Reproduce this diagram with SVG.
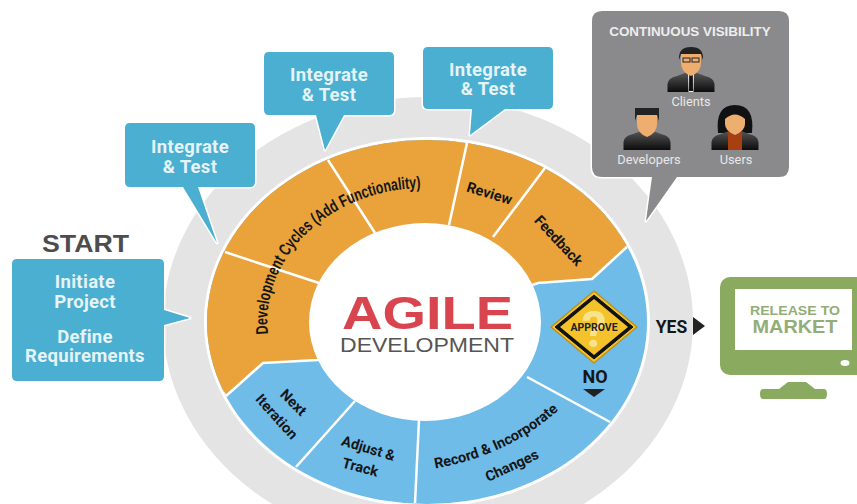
<svg xmlns="http://www.w3.org/2000/svg" xmlns:xlink="http://www.w3.org/1999/xlink" width="857" height="504" viewBox="0 0 857 504">
<style>
.call{fill:#4aafd0;stroke:#fff;stroke-width:3;stroke-linejoin:round;paint-order:stroke}
.ct{font:bold 18.500px Roboto,"Liberation Sans",sans-serif;fill:#e6f4f8;text-anchor:middle;letter-spacing:.3px}
.seg{font:bold 14.500px Roboto,"Liberation Sans",sans-serif;fill:#161616;text-anchor:middle}
.div{stroke:#fff;stroke-width:2.5;fill:none}
.pl{font:12.800px Roboto,"Liberation Sans",sans-serif;fill:#e8e8e8;text-anchor:middle}
</style>
<defs>
<linearGradient id="suit" x1="0" y1="0" x2="0" y2="1"><stop offset="0" stop-color="#555"/><stop offset="1" stop-color="#0c0c0c"/></linearGradient>
<g id="torso"><path d="M-23.5,23 V15 Q-23,9 -14,7 L-6,4 H6 L14,7 Q23,9 23.5,15 V23 Z" fill="url(#suit)"/></g>
<g id="face"><path d="M-10,-17 H10 V-6 Q10,3 0,7 Q-10,3 -10,-6 Z" fill="#eeae70"/></g>
<clipPath id="ringClip"><ellipse cx="427" cy="322" rx="220" ry="182"/></clipPath>
</defs>
<rect width="857" height="504" fill="#fff"/>
<g id="wheel">
<ellipse cx="428" cy="322" rx="265" ry="225" fill="#e4e4e4"/>
<ellipse cx="427" cy="322" rx="223" ry="185" fill="#fff"/>
<ellipse cx="427" cy="322" rx="220" ry="182" fill="#6fbce9"/>
<g clip-path="url(#ringClip)">
<path d="M226,396 L150,300 L150,100 L720,100 L629,245 L592,279 L538,283 L425,322 L318,360 L263,363 Z" fill="#e9a33a" stroke="#fff" stroke-width="2.5" stroke-linejoin="round"/>
</g>
</g>
<g id="connectors">
<path class="div" d="M328,160 L375,233 M467,143 L449,225 M545,168 L493,237 M225,252 L319,283 M355,401 L296,467 M419,420 L415,503 M527,377 L610,422"/>
</g>
<g id="center">
<ellipse cx="425" cy="322" rx="116" ry="99" fill="#fff"/>
<text x="427.5" y="329" font-family="'Liberation Sans',sans-serif" font-weight="700" font-size="47" fill="#d9454f" text-anchor="middle" textLength="171" lengthAdjust="spacingAndGlyphs">AGILE</text>
<text x="427" y="352" font-family="'Liberation Sans',sans-serif" font-size="21" fill="#555" text-anchor="middle" textLength="174" lengthAdjust="spacingAndGlyphs">DEVELOPMENT</text>
</g>
<g id="seg-dev">
<path id="devArc" d="M268,334 A157,134 0 0 1 425,188 A157,134 0 0 1 500,205" fill="none"/>
<text font-family="'Liberation Sans',sans-serif" font-weight="700" font-size="17" fill="#161616" textLength="237" lengthAdjust="spacingAndGlyphs"><textPath href="#devArc" xlink:href="#devArc" startOffset="0">Development Cycles (Add Functionality)</textPath></text>
</g>
<g id="seg-review"><text class="seg" transform="translate(488,198) rotate(17)">Review</text></g>
<g id="seg-feedback"><text class="seg" transform="translate(555,244) rotate(47)">Feedback</text></g>
<g id="seg-next"><text class="seg" transform="translate(290,406) rotate(45)">Next</text><text class="seg" transform="translate(273,420) rotate(48)">Iteration</text></g>
<g id="seg-adjust"><text class="seg" transform="translate(367,453) rotate(17)">Adjust &amp;</text><text class="seg" transform="translate(359,472) rotate(15)">Track</text></g>
<g id="seg-record">
<path id="recArc" d="M425,470 Q510,458 566,403" fill="none"/>
<text class="seg"><textPath href="#recArc" xlink:href="#recArc" startOffset="50%">Record &amp; Incorporate</textPath></text>
<text class="seg" transform="translate(514,470) rotate(-25)">Changes</text>
</g>
<g id="approve">
<polygon points="551,327 594,291 637,327 594,363" fill="#f4c22b" stroke="#b8931f" stroke-width="1.5" stroke-linejoin="round"/>
<polygon points="555,327 594,295 633,327 594,359" fill="#111" stroke="#111" stroke-linejoin="round"/>
<polygon points="560,327 594,299 628,327 594,355" fill="#f4c22b"/>
<text x="594" y="347" font-family="Roboto,sans-serif" font-weight="700" font-size="50" fill="#f9e38a" text-anchor="middle">?</text>
<text x="594" y="331" font-family="Roboto,sans-serif" font-weight="700" font-size="10.500" fill="#222" text-anchor="middle">APPROVE</text>
<text x="595" y="383" font-family="Roboto,sans-serif" font-weight="700" font-size="18" fill="#161616" text-anchor="middle">NO</text>
<polygon points="583,389 605,389 594,397" fill="#222"/>
</g>
<g id="yes">
<text x="671.500" y="333" font-family="Roboto,sans-serif" font-weight="700" font-size="17.500" fill="#161616" text-anchor="middle">YES</text>
<polygon points="693,317 705,326 693,335" fill="#222"/>
</g>
<g id="start">
<text x="85.500" y="252" font-family="'Liberation Sans',sans-serif" font-weight="700" font-size="24.500" fill="#4d4d4d" text-anchor="middle" textLength="87" lengthAdjust="spacingAndGlyphs">START</text>
<path class="call" d="M17,259 H159 Q164,259 164,264 V310 L190,318 L164,325 V376 Q164,381 159,381 H17 Q12,381 12,376 V264 Q12,259 17,259 Z"/>
<text class="ct" x="85" y="288">Initiate</text>
<text class="ct" x="85" y="308">Project</text>
<text class="ct" x="85" y="343">Define</text>
<text class="ct" x="85" y="362">Requirements</text>
</g>
<g id="integrate1">
<path class="call" d="M130,123 H250 Q255,123 255,128 V182 Q255,187 250,187 H198 L217,243 L183,187 H130 Q125,187 125,182 V128 Q125,123 130,123 Z"/>
<text class="ct" x="190" y="153">Integrate</text>
<text class="ct" x="190" y="173">&amp; Test</text>
</g>
<g id="integrate2">
<path class="call" d="M269,52 H389 Q394,52 394,57 V110 Q394,115 389,115 H344 L325,150 L316,115 H269 Q264,115 264,110 V57 Q264,52 269,52 Z"/>
<text class="ct" x="329" y="81">Integrate</text>
<text class="ct" x="329" y="101">&amp; Test</text>
</g>
<g id="integrate3">
<path class="call" d="M428,47 H548 Q553,47 553,52 V104 Q553,109 548,109 H505 L470,135 L472,109 H428 Q423,109 423,104 V52 Q423,47 428,47 Z"/>
<text class="ct" x="488" y="76">Integrate</text>
<text class="ct" x="488" y="95">&amp; Test</text>
</g>
<g id="visibility">
<path d="M602,11 H779 Q789,11 789,21 V167 Q789,177 779,177 H677 L646,221 L652,177 H602 Q592,177 592,167 V21 Q592,11 602,11 Z" fill="#8a8a8c" stroke="#fff" stroke-width="3" stroke-linejoin="round" paint-order="stroke"/>
<text x="690" y="36" font-family="'Liberation Sans',sans-serif" font-weight="700" font-size="13.400" fill="#eee" text-anchor="middle">CONTINUOUS VISIBILITY</text>
<g id="clients" transform="translate(691,69)">
<use href="#torso" xlink:href="#torso"/>
<path d="M-3,4 H3 L2.500,23 H-2.500 Z" fill="#eee"/><path d="M-1.800,6 H1.800 L2,22 H-2 Z" fill="#111"/>
<use href="#face" xlink:href="#face"/>
<path d="M-12,-9 Q-13,-22 0,-22 Q13,-22 12,-9 L10,-15 H-10 Z" fill="#222"/>
<rect x="-8" y="-11" width="7" height="4" fill="none" stroke="#222"/><rect x="1" y="-11" width="7" height="4" fill="none" stroke="#222"/>
<text class="pl" y="37">Clients</text>
</g>
<g id="developers" transform="translate(647,127)">
<use href="#torso" xlink:href="#torso"/>
<use href="#face" xlink:href="#face" transform="translate(0,3)"/>
<path d="M-12,-6 L-12,-19 H12 L12,-6 L10,-12 H-10 Z" fill="#222"/>
<text class="pl" x="2" y="37">Developers</text>
</g>
<g id="users" transform="translate(735,127)">
<path d="M-17,6 Q-20,-22 0,-22 Q20,-22 17,6 Z" fill="#111"/>
<use href="#torso" xlink:href="#torso"/>
<path d="M-7,5 L0,8 L7,5 V23 H-7 Z" fill="#a83f10"/>
<path d="M-10,-8 Q0,-17 10,-8 V-3 Q10,4 0,8 Q-10,4 -10,-3 Z" fill="#eeae70"/>
<text class="pl" x="1" y="37">Users</text>
</g>
</g>
<g id="market">
<rect x="720" y="277" width="150" height="98" rx="10" fill="#8aab5f"/>
<rect x="735" y="289" width="117" height="61" fill="#fff"/>
<ellipse cx="845" cy="363" rx="4.500" ry="3" fill="#fff"/>
<path d="M788,382 H806 L815,389 H824 Q827,389 827,394 Q827,399 824,399 H763 Q760,399 760,394 Q760,389 763,389 H779 Z" fill="#8aab5f"/>
<text x="795" y="315" font-family="'Liberation Sans',sans-serif" font-weight="700" font-size="13" fill="#93ad76" text-anchor="middle" textLength="90" lengthAdjust="spacingAndGlyphs">RELEASE TO</text>
<text x="795" y="333" font-family="'Liberation Sans',sans-serif" font-weight="700" font-size="19" fill="#93ad76" text-anchor="middle" textLength="85" lengthAdjust="spacingAndGlyphs">MARKET</text>
</g>
</svg>
